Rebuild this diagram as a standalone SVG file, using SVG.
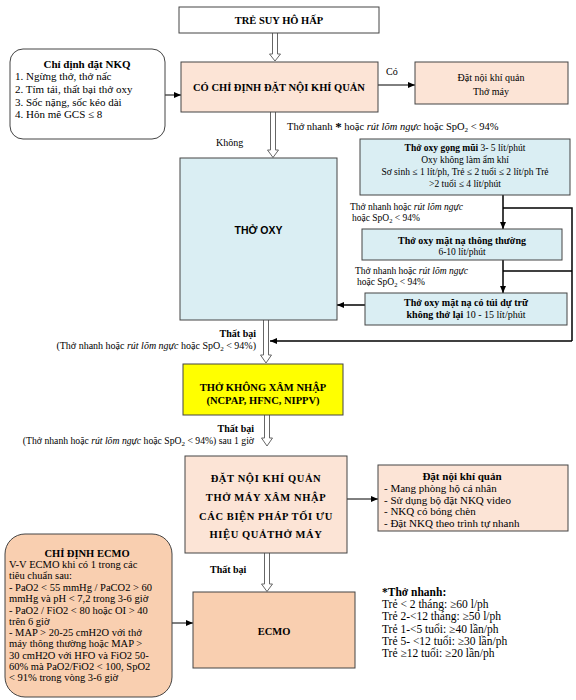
<svg xmlns="http://www.w3.org/2000/svg" width="576" height="700" viewBox="0 0 576 700">
<defs>
<marker id="ah" markerWidth="7" markerHeight="6" refX="7" refY="3" orient="auto" markerUnits="userSpaceOnUse">
<path d="M0,0 L7,3 L0,6 Z" fill="#000"/>
</marker>
<style>
text{font-family:"Liberation Serif","Times New Roman",serif;fill:#000}
.b{font-weight:bold}
.i{font-style:italic}
.t115{font-size:11.5px}
.t11{font-size:11px}
.t105{font-size:10.5px}
.t10{font-size:10px}
.t95{font-size:9.5px}
.c{text-anchor:middle}
.r{text-anchor:end}
.box{stroke:#444;stroke-width:1}
.peach{fill:#fce4d6}
.peach2{fill:#f9cfb0}
.blue{fill:#daeef3}
.ha{fill:#fff;stroke:#666;stroke-width:1}
.ln{fill:none;stroke:#000;stroke-width:1.5}
.thin{fill:none;stroke:#000;stroke-width:1}
</style>
</defs>
<rect width="576" height="700" fill="#fff"/>

<g id="connectors">
<path class="ha" d="M272.5,33 V54 H269.5 L275,61 L280.5,54 H277.5 V33"/>
<path class="ha" d="M270.5,112 V150 H267.5 L273,157.5 L278.5,150 H275.5 V112"/>
<path class="ha" d="M263.5,320 V355 H260.5 L266,363 L271.5,355 H268.5 V320"/>
<path class="ha" d="M264.5,415 V438 H261.5 L267,446 L272.5,438 H269.5 V415"/>
<path class="ha" d="M264.5,553 V584 H261.5 L267,591.5 L272.5,584 H269.5 V553"/>
<line class="thin" x1="165" y1="95" x2="181" y2="95" marker-end="url(#ah)"/>
<line class="thin" x1="378" y1="85" x2="415" y2="85" marker-end="url(#ah)"/>
<line class="thin" x1="347" y1="499" x2="378" y2="499" marker-end="url(#ah)"/>
<line class="thin" x1="172" y1="623" x2="193" y2="623" marker-end="url(#ah)"/>
<line class="ln" x1="503" y1="195" x2="503" y2="229" marker-end="url(#ah)"/>
<line class="ln" x1="503" y1="260" x2="503" y2="293" marker-end="url(#ah)"/>
<polyline class="ln" points="503,208 572,208 572,341"/>
<line class="ln" x1="503" y1="271" x2="572" y2="271"/>
<line class="ln" x1="572" y1="341" x2="270" y2="341" stroke-width="2" marker-end="url(#ah)"/>
<line class="ln" x1="365" y1="305" x2="337" y2="305" marker-end="url(#ah)"/>
</g>

<g id="n-start">
<rect class="box" x="179" y="7" width="200" height="26" fill="#fff"/>
<text class="b t105 c" x="279" y="24">TRẺ SUY HÔ HẤP</text>
</g>

<g id="n-nkq-indication">
<rect class="box" x="10" y="49" width="155" height="90" rx="13" fill="#fff"/>
<text class="b t11 c" x="87" y="68">Chỉ định đặt NKQ</text>
<text class="t11" x="15" y="80">1. Ngừng thở, thở nấc</text>
<text class="t11" x="15" y="93">2. Tím tái, thất bại thở oxy</text>
<text class="t11" x="15" y="106">3. Sốc nặng, sốc kéo dài</text>
<text class="t11" x="15" y="118">4. Hôn mê GCS ≤ 8</text>
</g>

<g id="n-decision">
<rect class="box peach" x="181" y="62" width="197" height="50"/>
<text class="b t105 c" x="279" y="91">CÓ CHỈ ĐỊNH ĐẶT NỘI KHÍ QUẢN</text>
<text class="t10" x="386" y="75">Có</text>
</g>

<g id="n-intubate">
<rect class="box peach" x="415" y="62" width="153" height="42"/>
<text class="t10 c" x="491" y="81">Đặt nội khí quản</text>
<text class="t10 c" x="491" y="95">Thở máy</text>
</g>

<g id="labels-top">
<text class="t105" x="287" y="130">Thở nhanh <tspan class="b" font-size="13" dy="1">*</tspan><tspan dy="-1"> hoặc </tspan><tspan class="i">rút lõm ngực</tspan> hoặc SpO<tspan font-size="7" dy="2">2</tspan><tspan dy="-2"> &lt; 94%</tspan></text>
<text class="t10" x="216" y="146">Không</text>
</g>

<g id="n-oxy">
<rect class="box blue" x="180" y="158" width="157" height="162"/>
<text x="258.5" y="234" class="c b" style="font-family:'Liberation Sans',Arial,sans-serif;font-size:10.5px">THỞ OXY</text>
</g>

<g id="n-nasal">
<rect class="box blue" x="360" y="139" width="210" height="56"/>
<text class="t95 c" x="465" y="151"><tspan class="b">Thở oxy gọng mũi</tspan> 3- 5 lít/phút</text>
<text class="t95 c" x="465" y="163">Oxy không làm ẩm khí</text>
<text class="t95 c" x="465" y="175">Sơ sinh ≤ 1 lít/ph, Trẻ ≤ 2 tuổi ≤ 2 lít/ph Trẻ</text>
<text class="t95 c" x="465" y="187">&gt;2 tuổi ≤ 4 lít/phút</text>
</g>

<g id="labels-oxy">
<text class="t95" x="350" y="210">Thở nhanh hoặc <tspan class="i">rút lõm ngực</tspan></text>
<text class="t95" x="352" y="221">hoặc SpO<tspan font-size="6.5" dy="2">2</tspan><tspan dy="-2"> &lt; 94%</tspan></text>
<text class="t95" x="355" y="274">Thở nhanh hoặc <tspan class="i">rút lõm ngực</tspan></text>
<text class="t95" x="357" y="285">hoặc SpO<tspan font-size="6.5" dy="2">2</tspan><tspan dy="-2"> &lt; 94%</tspan></text>
</g>

<g id="n-mask">
<rect class="box blue" x="362" y="229" width="200" height="31"/>
<text class="t10 b c" x="462" y="244">Thở oxy mặt nạ thông thường</text>
<text class="t95 c" x="462" y="255">6-10 lít/phút</text>
</g>

<g id="n-reservoir">
<rect class="box blue" x="365" y="293" width="202" height="32"/>
<text class="t10 b c" x="466" y="306">Thở oxy mặt nạ có túi dự trữ</text>
<text class="t10 c" x="466" y="318"><tspan class="b">không thở lại</tspan> 10 - 15 lít/phút</text>
</g>

<g id="labels-fail1">
<text class="t10 b r" x="256" y="337">Thất bại</text>
<text class="t10 r" x="256" y="349">(Thở nhanh hoặc <tspan class="i">rút lõm ngực</tspan> hoặc SpO<tspan font-size="7" dy="2">2</tspan><tspan dy="-2"> &lt; 94%)</tspan></text>
</g>

<g id="n-niv">
<rect x="183" y="364" width="160" height="51" fill="#ffff00" stroke="#444" stroke-width="1"/>
<text class="t105 b c" x="263" y="391">THỞ KHÔNG XÂM NHẬP</text>
<text class="t105 b c" x="263" y="404">(NCPAP, HFNC, NIPPV)</text>
</g>

<g id="labels-fail2">
<text class="t10 b r" x="254" y="432">Thất bại</text>
<text class="r" font-size="9.7" x="254" y="444">(Thở nhanh hoặc <tspan class="i">rút lõm ngực</tspan> hoặc SpO<tspan font-size="7" dy="2">2</tspan><tspan dy="-2"> &lt; 94%) sau 1 giờ</tspan></text>
</g>

<g id="n-mv">
<rect class="box peach" x="185" y="456" width="162" height="97"/>
<text class="t105 b c" x="266" y="482" letter-spacing="0.6">ĐẶT NỘI KHÍ QUẢN</text>
<text class="t105 b c" x="266" y="501" letter-spacing="0.6">THỞ MÁY XÂM NHẬP</text>
<text class="t105 b c" x="266" y="520" letter-spacing="0.6">CÁC BIỆN PHÁP TỐI ƯU</text>
<text class="t105 b c" x="266" y="538" letter-spacing="0.6">HIỆU QUẢTHỞ MÁY</text>
</g>

<g id="n-intubation-notes">
<rect class="box peach" x="378" y="465" width="190" height="66"/>
<text class="t11 b c" x="462" y="480">Đặt nội khí quản</text>
<text class="t11" x="384" y="492">- Mang phòng hộ cá nhân</text>
<text class="t11" x="384" y="503.5">- Sử dụng bộ đặt NKQ video</text>
<text class="t11" x="384" y="515">- NKQ có bóng chèn</text>
<text class="t11" x="384" y="526.5">- Đặt NKQ theo trình tự nhanh</text>
</g>

<g id="labels-fail3">
<text class="t10 b" x="210" y="573">Thất bại</text>
</g>

<g id="n-ecmo-indication">
<rect class="box peach2" x="5" y="534" width="167" height="163" rx="20"/>
<text class="t105 b c" x="87" y="557">CHỈ ĐỊNH ECMO</text>
<text class="t105" x="9" y="568">V-V ECMO khi có 1 trong các</text>
<text class="t105" x="9" y="579">tiêu chuẩn sau:</text>
<text class="t105" x="9" y="591">- PaO2 &lt; 55 mmHg / PaCO2 &gt; 60</text>
<text class="t105" x="9" y="602">mmHg và pH &lt; 7,2 trong 3-6 giờ</text>
<text class="t105" x="9" y="614">- PaO2 / FiO2 &lt; 80 hoặc OI &gt; 40</text>
<text class="t105" x="9" y="625">trên 6 giờ</text>
<text class="t105" x="9" y="636">- MAP &gt; 20-25 cmH2O với thở</text>
<text class="t105" x="9" y="647">máy thông thường hoặc MAP &gt;</text>
<text class="t105" x="9" y="659">30 cmH2O với HFO và FiO2 50-</text>
<text class="t105" x="9" y="670">60% mà PaO2/FiO2 &lt; 100, SpO2</text>
<text class="t105" x="9" y="681">&lt; 91% trong vòng 3-6 giờ</text>
</g>

<g id="n-ecmo">
<rect class="box peach2" x="193" y="592" width="162" height="76"/>
<text class="t105 b c" x="274" y="635">ECMO</text>
</g>

<g id="legend">
<text class="t115 b" x="382" y="596">*Thở nhanh:</text>
<text class="t115" x="382" y="608">Trẻ &lt; 2 tháng: ≥60 l/ph</text>
<text class="t115" x="382" y="620">Trẻ 2-&lt;12 tháng: ≥50 l/ph</text>
<text class="t115" x="382" y="633">Trẻ 1-&lt;5 tuổi: ≥40 lần/ph</text>
<text class="t115" x="382" y="645">Trẻ 5- &lt;12 tuổi: ≥30 lần/ph</text>
<text class="t115" x="382" y="657">Trẻ ≥12 tuổi: ≥20 lần/ph</text>
</g>
</svg>
